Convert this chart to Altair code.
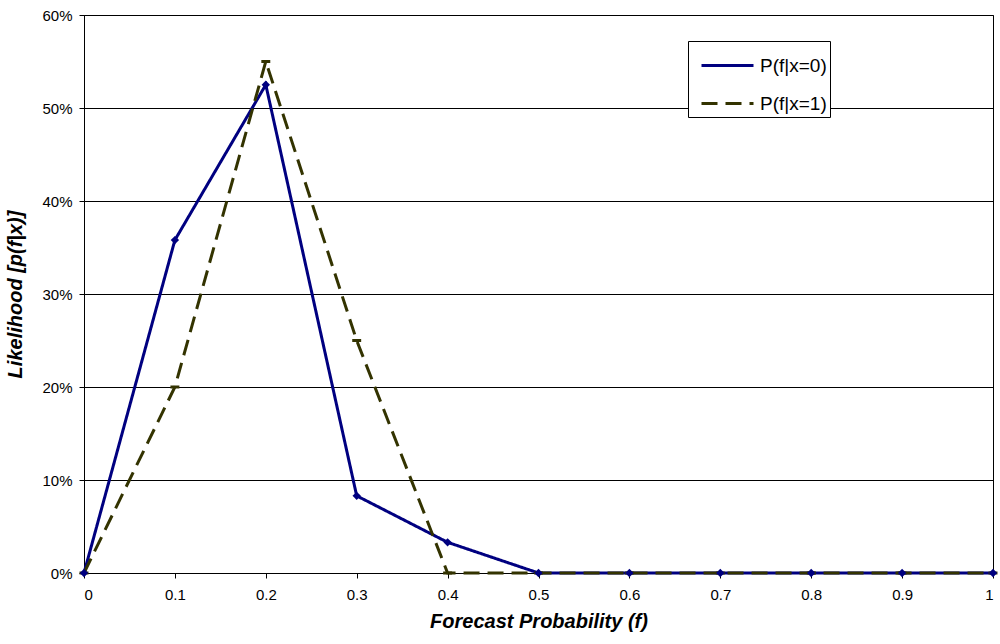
import altair as alt
import pandas as pd

# Forecast probability bins and the two conditional likelihood curves
forecast = [0.0, 0.1, 0.2, 0.3, 0.4, 0.5, 0.6, 0.7, 0.8, 0.9, 1.0]
p_x0 = [0.0, 0.358, 0.525, 0.083, 0.033, 0.0, 0.0, 0.0, 0.0, 0.0, 0.0]
p_x1 = [0.0, 0.20, 0.55, 0.25, 0.0, 0.0, 0.0, 0.0, 0.0, 0.0, 0.0]
series_names = ["P(f|x=0)", "P(f|x=1)"]
series_colors = ["#000080", "#333300"]
y_ticks = [0, 0.1, 0.2, 0.3, 0.4, 0.5, 0.6]

rows = []
for name, vals in zip(series_names, [p_x0, p_x1]):
    for f, v in zip(forecast, vals):
        rows.append({"f": f, "p": v, "series": name})
df = pd.DataFrame(rows)

x_enc = alt.X(
    "f:Q",
    scale=alt.Scale(domain=[0, 1], nice=False),
    axis=alt.Axis(
        title="Forecast Probability (f)",
        values=forecast,
        labelExpr="format(datum.value, '~g')",
        grid=False,
    ),
)
y_enc = alt.Y(
    "p:Q",
    scale=alt.Scale(domain=[0, 0.6], nice=False),
    axis=alt.Axis(
        title="Likelihood [p(f|x)]",
        format=".0%",
        values=y_ticks,
        grid=True,
    ),
)

# legend swatch: a long horizontal stroke wider than the nominal symbol box
swatch = "M-1.3,0L1.3,0"

lines = alt.Chart(df).mark_line(strokeWidth=3).encode(
    x=x_enc,
    y=y_enc,
    color=alt.Color(
        "series:N",
        scale=alt.Scale(domain=series_names, range=series_colors),
        legend=alt.Legend(
            title=None,
            orient="none",
            legendX=604,
            legendY=26,
            symbolType=swatch,
            symbolSize=1600,
            symbolStrokeWidth=3,
            symbolOffset=15,
            labelFont="Liberation Sans",
            labelFontSize=19,
            labelColor="black",
            labelOffset=11,
            labelExpr="datum.label + '\u00a0'",
            fillColor="white",
            strokeColor="black",
            padding=3,
            rowPadding=6,
        ),
    ),
    strokeDash=alt.StrokeDash(
        "series:N",
        scale=alt.Scale(domain=series_names, range=[[1, 0], [16, 8]]),
        legend=alt.Legend(title=None, orient="none", legendX=604, legendY=26),
    ),
    order=alt.Order("series:N", sort="ascending"),
)

olive_pts = alt.Chart(df[df.series == series_names[1]]).mark_point(
    shape="M-1,0L1,0", filled=False, size=80, strokeWidth=3,
    color=series_colors[1], opacity=1
).encode(x="f:Q", y="p:Q")

blue_pts = alt.Chart(df[df.series == series_names[0]]).mark_point(
    shape="diamond", filled=True, size=70, color=series_colors[0], opacity=1
).encode(x="f:Q", y="p:Q")

chart = (
    alt.layer(lines, olive_pts, blue_pts)
    .properties(
        width=909,
        height=558,
        autosize=alt.AutoSizeParams(type="none"),
        padding={"left": 84, "top": 15, "right": 7, "bottom": 71},
        background="white",
    )
    .configure_view(stroke="black", strokeWidth=1)
    .configure_axis(
        labelFont="Liberation Sans",
        labelFontSize=15,
        labelColor="black",
        titleFont="Liberation Sans",
        titleFontSize=20,
        titleFontWeight="bold",
        titleFontStyle="italic",
        titleColor="black",
        domainColor="black",
        tickColor="black",
        tickSize=5,
        gridColor="black",
        gridWidth=1,
        gridOpacity=1,
    )
    .configure_axisX(labelPadding=9, titlePadding=9)
    .configure_axisY(labelPadding=7, titlePadding=16)
)

chart.save("out.html", embed_options={"renderer": "svg", "actions": False})
